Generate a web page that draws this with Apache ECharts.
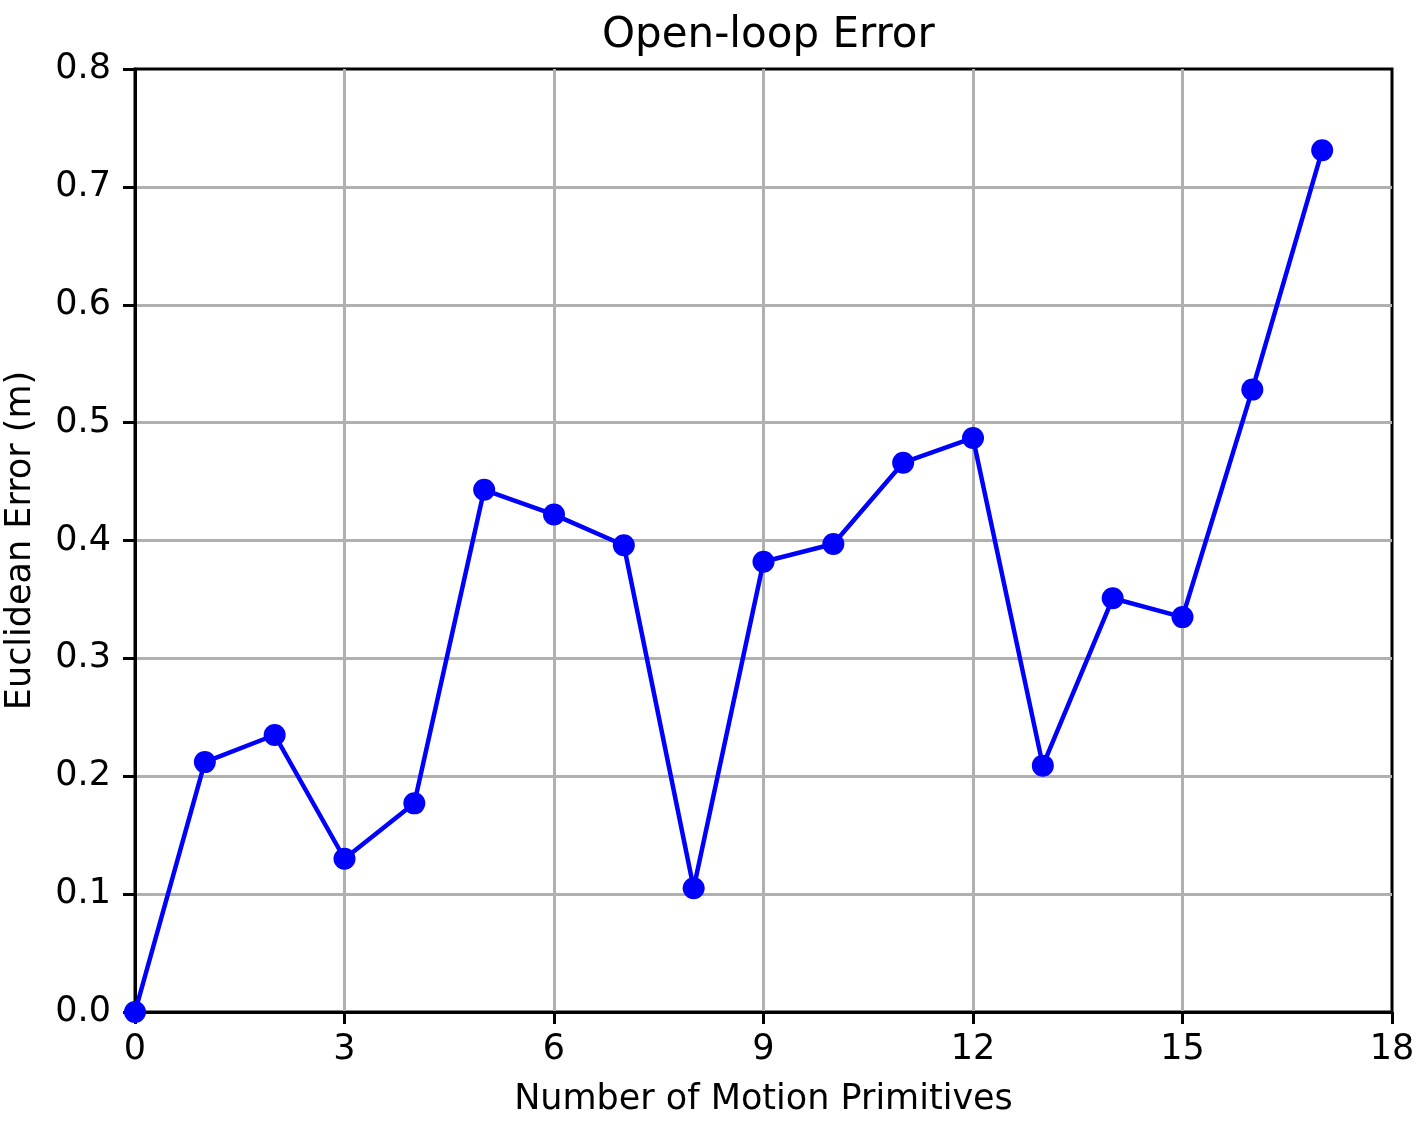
<!DOCTYPE html>
<html>
<head>
<meta charset="utf-8">
<script src="https://cdn.jsdelivr.net/npm/echarts@6/dist/echarts.min.js"></script>
<style>
  html, body { margin: 0; padding: 0; background: #fff; }
  #chart { width: 1426px; height: 1124px; }
</style>
</head>
<body>
<div id="chart"></div>
<script>
// 原始数据
const primitives = [0, 1, 2, 3, 4, 5, 6, 7, 8, 9, 10, 11, 12, 13, 14, 15, 16, 17];
const errors = [0.0, 0.212, 0.235, 0.130, 0.177, 0.443, 0.422, 0.396, 0.105, 0.382,
  0.397, 0.466, 0.487, 0.209, 0.351, 0.335, 0.528, 0.731];

const chart = echarts.init(document.getElementById("chart"));
const font = "DejaVu Sans";
const tickFont = { fontFamily: font, fontSize: 35, color: "#000" };

const option = {
  backgroundColor: "#fff",
  animation: false,
  title: {
    text: "Open-loop Error",
    left: 597,
    top: 10,
    textStyle: { fontFamily: font, fontSize: 42, fontWeight: "normal", color: "#000" },
  },
  grid: {
    left: 135, right: 34, top: 69, bottom: 112,
    outerBoundsMode: "none",
    containLabel: false,
    show: true, borderColor: "#000", borderWidth: 3,
  },
  xAxis: {
    type: "value",
    min: 0, max: 18, interval: 3,
    name: "Number of Motion Primitives",
    nameLocation: "middle",
    nameGap: 70,
    nameTextStyle: tickFont,
    axisLine: { show: true, lineStyle: { color: "#000", width: 3 } },
    axisTick: { show: true, length: 12, lineStyle: { color: "#000", width: 3 } },
    axisLabel: Object.assign({ margin: 20 }, tickFont),
    splitLine: {
      show: true, showMinLine: false, showMaxLine: false,
      lineStyle: { color: "#b0b0b0", width: 3 },
    },
  },
  yAxis: {
    type: "value",
    min: 0, max: 0.8, interval: 0.1,
    name: "Euclidean Error (m)",
    nameLocation: "middle",
    nameGap: 97,
    nameTextStyle: tickFont,
    axisLine: { show: true, lineStyle: { color: "#000", width: 3 } },
    axisTick: { show: true, length: 12, lineStyle: { color: "#000", width: 3 } },
    axisLabel: Object.assign({ margin: 24, formatter: (v) => v.toFixed(1) }, tickFont),
    splitLine: {
      show: true, showMinLine: false, showMaxLine: false,
      lineStyle: { color: "#b0b0b0", width: 3 },
    },
  },
  series: [
    {
      type: "line",
      data: primitives.map((x, i) => [x, errors[i]]),
      symbol: "circle",
      symbolSize: 22,
      lineStyle: { color: "#0000ff", width: 4.5 },
      itemStyle: { color: "#0000ff" },
    },
  ],
};
chart.setOption(option);
</script>
</body>
</html>
